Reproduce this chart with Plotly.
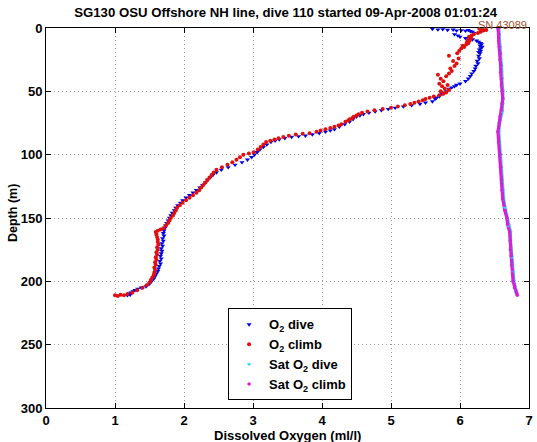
import plotly.graph_objects as go

# ---------------- data ----------------
dive_depth = [0.8, 1.2, 1.0, 1.5, 1.3, 2.0, 1.8, 2.2, 1.6, 2.5, 3.0, 4.0, 5.0, 6.0, 7.0, 8.0,
              9, 10, 11, 12, 13, 14, 15, 16, 17, 18, 19, 20, 22, 24, 26, 28, 30, 32, 34, 36,
              38, 40, 42, 44, 45, 46, 47, 48, 50, 51, 52, 54, 55, 56, 58, 59, 60, 61, 62, 63,
              64, 65, 66, 67, 68, 69, 70, 72, 74, 76, 78, 80, 81, 82, 83, 84, 85, 85.5, 86, 87,
              88, 89, 90, 92, 94, 96, 98, 100, 102, 104, 106, 108, 110, 112, 114, 116, 118, 120,
              122, 124, 126, 128, 130, 132, 134, 136, 138, 140, 142, 144, 146, 148, 150, 152,
              154, 156, 158, 160, 162, 164, 166, 168, 170, 172, 174, 176, 178, 180, 182, 184,
              186, 188, 190, 192, 194, 196, 198, 200, 202, 204, 205, 206, 207, 208, 209, 210,
              211, 210.5]
dive_o2 = [5.60, 5.68, 5.75, 5.82, 5.90, 5.95, 6.02, 6.08, 6.12, 6.15, 6.18, 6.20, 5.92, 5.97, 6.00, 6.08,
           6.18, 6.24, 6.27, 6.30, 6.31, 6.29, 6.32, 6.30, 6.28, 6.30, 6.27, 6.29, 6.27, 6.28, 6.25, 6.26,
           6.23, 6.22, 6.20, 6.17, 6.15, 6.12, 6.08, 6.00, 5.95, 5.92, 5.88, 5.84, 5.80, 5.76, 5.74, 5.70,
           5.66, 5.64, 5.60, 5.50, 5.42, 5.30, 5.18, 5.06, 4.96, 4.86, 4.77, 4.68, 4.60, 4.55, 4.50, 4.45,
           4.40, 4.33, 4.25, 4.18, 4.12, 4.05, 3.96, 3.86, 3.76, 3.66, 3.56, 3.46, 3.38, 3.32, 3.26, 3.20,
           3.15, 3.10, 3.06, 3.02, 2.98, 2.92, 2.84, 2.74, 2.64, 2.54, 2.47, 2.42, 2.38, 2.34, 2.31, 2.27,
           2.23, 2.18, 2.13, 2.08, 2.03, 1.98, 1.95, 1.91, 1.88, 1.86, 1.83, 1.81, 1.79, 1.77, 1.75, 1.73,
           1.72, 1.71, 1.70, 1.71, 1.69, 1.70, 1.68, 1.69, 1.67, 1.68, 1.67, 1.66, 1.67, 1.65, 1.66, 1.64,
           1.63, 1.62, 1.60, 1.58, 1.56, 1.53, 1.50, 1.45, 1.38, 1.33, 1.29, 1.26, 1.23, 1.21, 1.18, 1.22,
           1.28]

climb_depth = [211, 211.5, 210.5, 211, 210, 209, 207, 205, 203, 201, 199, 197, 195, 193, 191, 189,
               187, 185, 183, 181, 179, 177, 175, 173, 171, 169, 167, 165, 163, 161, 160, 159, 158,
               156, 154, 152, 150, 148, 146, 144, 142, 140, 138, 136, 134, 132, 130, 128, 126, 124,
               122, 120, 118, 116, 114, 112, 110, 108, 106, 104, 102, 100, 99, 98, 96, 94, 92, 90,
               89, 88, 87, 86, 85, 84, 83.5, 83, 82, 81, 80, 79, 78, 77, 76, 74, 73, 72, 71, 70, 69,
               68, 67, 66, 65, 64, 63, 62, 61, 60, 59, 58, 57, 56, 55, 54, 53, 52, 51, 50, 49, 48,
               46, 45, 44, 42, 40, 38, 37, 36, 34, 32, 30, 28, 26, 24, 22, 20, 18, 16, 15, 14, 13,
               12, 11, 10, 9, 8, 7, 6, 5, 4, 3, 2, 1.5, 1, 0.5]
climb_o2 = [1.00, 1.04, 1.08, 1.13, 1.18, 1.25, 1.32, 1.40, 1.46, 1.50, 1.52, 1.54, 1.56, 1.57, 1.58, 1.57,
            1.59, 1.58, 1.60, 1.59, 1.61, 1.60, 1.62, 1.61, 1.63, 1.62, 1.62, 1.61, 1.60, 1.59, 1.62, 1.66, 1.70,
            1.74, 1.77, 1.79, 1.81, 1.84, 1.86, 1.88, 1.90, 1.94, 1.98, 2.03, 2.08, 2.13, 2.18, 2.22, 2.25, 2.28,
            2.31, 2.34, 2.37, 2.40, 2.43, 2.47, 2.55, 2.63, 2.70, 2.76, 2.81, 2.86, 2.94, 3.01, 3.07, 3.11, 3.15, 3.19,
            3.25, 3.31, 3.37, 3.44, 3.52, 3.62, 3.72, 3.82, 3.92, 3.98, 4.05, 4.12, 4.18, 4.24, 4.28, 4.34, 4.38, 4.40,
            4.44, 4.46, 4.50, 4.53, 4.58, 4.66, 4.76, 4.88, 5.00, 5.10, 5.20, 5.28, 5.34, 5.40, 5.46, 5.50, 5.56,
            5.62, 5.70, 5.76, 5.80, 5.72, 5.84, 5.78, 5.74, 5.82, 5.70, 5.76, 5.72, 5.80, 5.68, 5.84, 5.88, 5.86,
            5.92, 5.95, 5.90, 5.98, 5.84, 5.96, 5.99, 6.02, 6.06, 6.04, 6.09, 6.12, 6.10, 6.14, 6.12, 6.16, 6.13,
            6.17, 6.20, 6.26, 6.30, 6.34, 6.38, 6.33, 6.28]

sat_dive_depth = [0, 5, 10, 15, 20, 25, 30, 35, 40, 45, 50, 56, 60, 66, 70, 75, 82, 90, 100,
                  110, 120, 128, 135, 142, 150, 156, 161, 168, 175, 181, 187, 193, 200, 205, 210]
sat_dive_o2 = [6.56, 6.56, 6.57, 6.58, 6.58, 6.59, 6.60, 6.60, 6.61, 6.61, 6.62, 6.62, 6.62, 6.61,
               6.59, 6.57, 6.56, 6.57, 6.59, 6.60, 6.61, 6.62, 6.63, 6.65, 6.68, 6.70, 6.73, 6.73,
               6.74, 6.75, 6.76, 6.77, 6.78, 6.80, 6.82]

sat_climb_depth = [211, 209, 205, 200, 194, 187, 180, 175, 168, 161, 155, 150, 144, 135, 128,
                   120, 110, 100, 90, 82, 75, 70, 65, 60, 56, 50, 45, 40, 35, 30, 25, 20, 15, 10, 5, 0]
sat_climb_o2 = [6.83, 6.82, 6.79, 6.77, 6.76, 6.75, 6.74, 6.73, 6.73, 6.72, 6.69, 6.68, 6.65, 6.62,
                6.61, 6.60, 6.59, 6.58, 6.56, 6.55, 6.57, 6.58, 6.60, 6.61, 6.62, 6.61, 6.60, 6.60,
                6.59, 6.59, 6.58, 6.58, 6.57, 6.56, 6.56, 6.55]

x_ticks = [0, 1, 2, 3, 4, 5, 6, 7]
y_ticks = [0, 50, 100, 150, 200, 250, 300]

title_text = "SG130 OSU Offshore NH line, dive 110 started 09-Apr-2008 01:01:24"
serial_text = "SN 43089"
x_title = "Dissolved Oxygen (ml/l)"
y_title = "Depth (m)"
legend_names = ["O<sub>2</sub> dive", "O<sub>2</sub> climb",
                "Sat O<sub>2</sub> dive", "Sat O<sub>2</sub> climb"]

FONT = "Liberation Sans, Arial, Helvetica, sans-serif"
NARROW = "Liberation Sans Narrow, Arial Narrow, Liberation Sans, sans-serif"

fig = go.Figure()

# saturation tracks (dense sampling drawn as thick tracks) --------
fig.add_trace(go.Scatter(x=sat_dive_o2, y=sat_dive_depth, mode="lines",
                         line=dict(color="#33d6e8", width=3.5), showlegend=False,
                         hoverinfo="skip"))
fig.add_trace(go.Scatter(x=sat_climb_o2, y=sat_climb_depth, mode="lines",
                         line=dict(color="#d81ed8", width=3.2), showlegend=False,
                         hoverinfo="skip"))

# O2 profiles ----------------------------------------------------
fig.add_trace(go.Scatter(x=dive_o2, y=dive_depth, mode="markers", name=legend_names[0],
                         marker=dict(symbol="triangle-down", size=4.5, color="#0000e6",
                                     line=dict(width=0))))
fig.add_trace(go.Scatter(x=climb_o2, y=climb_depth, mode="markers", name=legend_names[1],
                         marker=dict(symbol="circle", size=4, color="#e01010",
                                     line=dict(width=0))))
fig.add_trace(go.Scatter(x=sat_dive_o2, y=sat_dive_depth, mode="markers", name=legend_names[2],
                         marker=dict(symbol="triangle-down", size=4, color="#33d6e8",
                                     line=dict(width=0))))
fig.add_trace(go.Scatter(x=sat_climb_o2, y=sat_climb_depth, mode="markers", name=legend_names[3],
                         marker=dict(symbol="circle", size=3.5, color="#d81ed8",
                                     line=dict(width=0))))

axis_common = dict(
    showline=True, linecolor="black", linewidth=1, mirror="ticks",
    ticks="inside", ticklen=5, tickcolor="black",
    showgrid=True, gridcolor="#9a9a9a", griddash="1px,3px", gridwidth=1,
    zeroline=False, automargin=False,
    tickfont=dict(family=FONT, size=13, color="black", weight="bold"),
)

fig.update_layout(
    width=537, height=442,
    margin=dict(l=46, r=8, t=28, b=34, autoexpand=False),
    paper_bgcolor="white", plot_bgcolor="white",
    title=dict(text=title_text, x=0.532, xanchor="center", y=0.972, yanchor="middle",
               font=dict(family=FONT, size=13.2, color="black", weight="bold")),
    xaxis=dict(range=[0, 7], tickvals=x_ticks, ticktext=[str(v) for v in x_ticks],
               **axis_common),
    yaxis=dict(range=[300, 0], tickvals=y_ticks, ticktext=[str(v) for v in y_ticks],
               **axis_common),
    legend=dict(x=0.377, y=0.262, xanchor="left", yanchor="top",
                bgcolor="white", bordercolor="black", borderwidth=1,
                font=dict(family=FONT, size=13, color="black", weight="bold"),
                tracegroupgap=0),
    showlegend=True,
    annotations=[
        dict(text=serial_text, xref="paper", yref="paper", x=1.0, y=1.0,
             xanchor="right", yanchor="bottom", showarrow=False, yshift=-5, xshift=0,
             font=dict(family=FONT, size=11, color="#a0522d")),
        dict(text=x_title, xref="paper", yref="paper", x=0.5, y=0, xanchor="center",
             yanchor="middle", yshift=-27, showarrow=False,
             font=dict(family=FONT, size=13, color="black", weight="bold")),
        dict(text=y_title, xref="paper", yref="paper", x=0, y=0.5, xanchor="center",
             yanchor="middle", xshift=-33, yshift=5, textangle=-90, showarrow=False,
             font=dict(family=NARROW, size=12.5, color="black", weight="bold")),
    ],
)

fig.write_html("out.html", config={"displayModeBar": False},
               post_script="document.body.style.margin='0px';document.body.style.overflow='hidden';")
